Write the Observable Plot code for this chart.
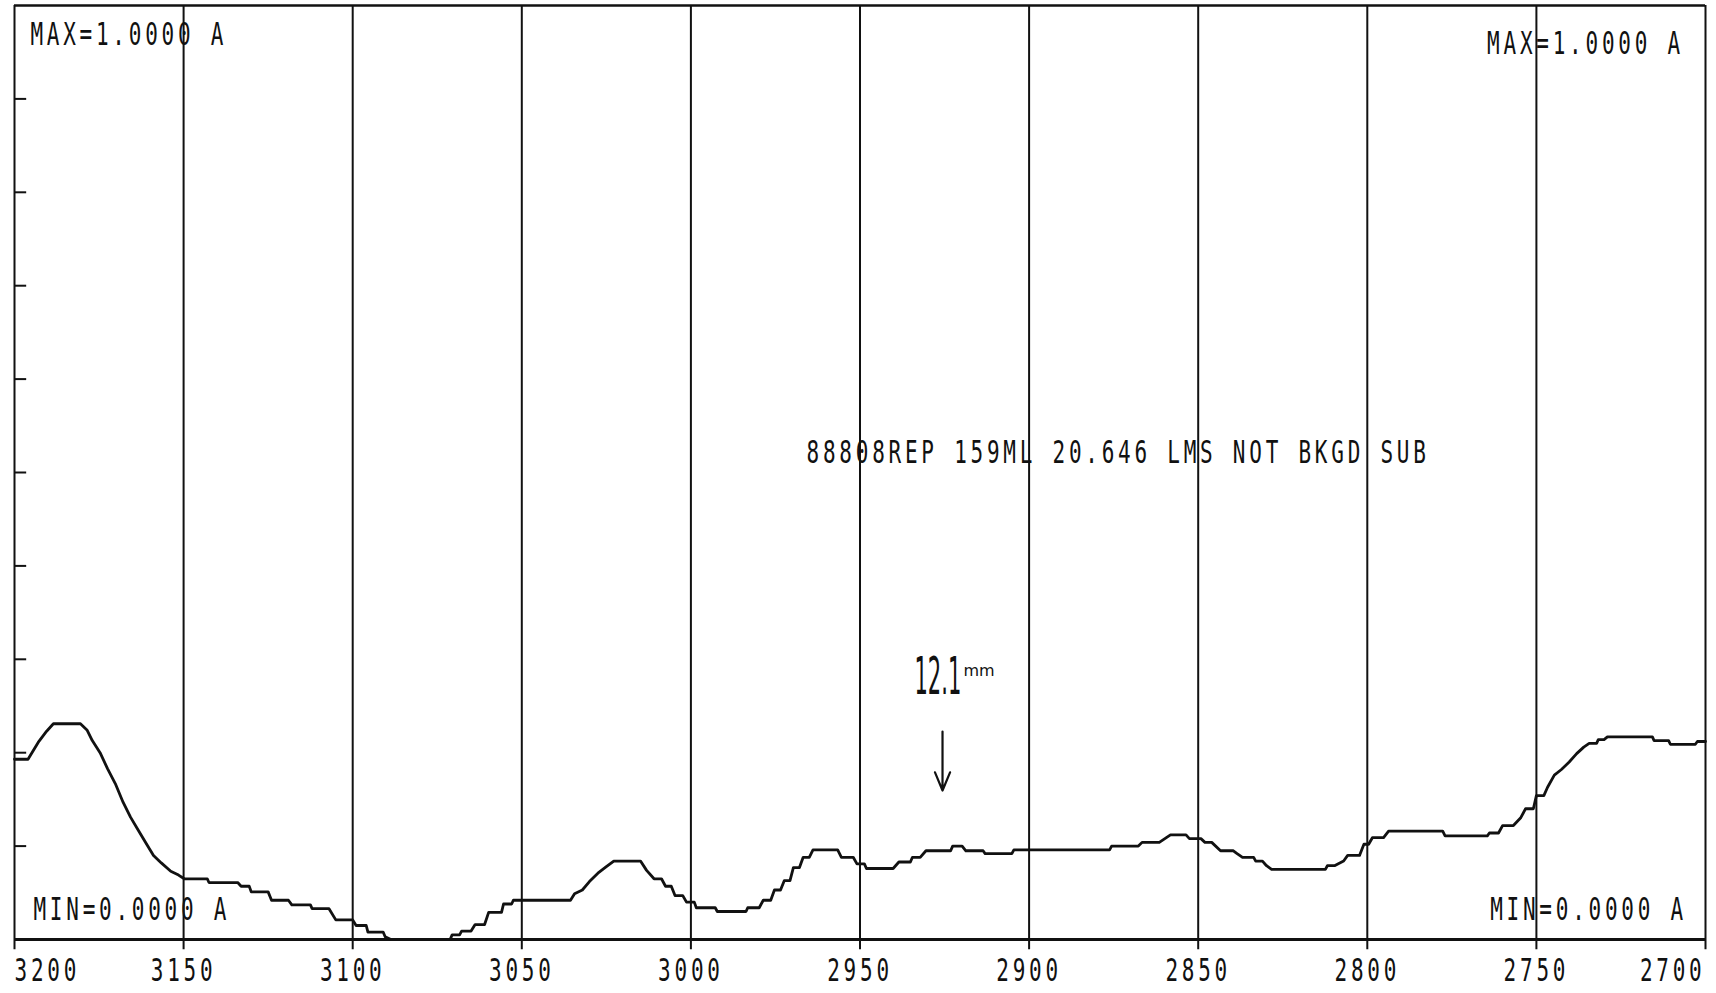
<!DOCTYPE html>
<html><head><meta charset="utf-8">
<script src="https://cdn.jsdelivr.net/npm/d3@7"></script>
<script src="https://cdn.jsdelivr.net/npm/@observablehq/plot@0.6"></script>
<style>body{margin:0;background:#fff;} svg{display:block}</style>
</head><body><div id="chart"></div>
<script>
// Spectrum trace (wavenumber, absorbance)
const wavenumber = [3200,3196,3193,3190.5,3188.5,3180.5,3178.5,3177,3174.7,3172.5,3170.2,3167.9,3165.7,3163.4,3161.1,3158.9,3156.6,3153.8,3151.5,3149.8,3143,3142.5,3134,3133,3130.6,3130,3125,3124,3119,3118,3112.5,3112,3107,3105,3100,3099,3096,3095.5,3091,3090.4,3088.7,3071.2,3070.6,3068.4,3067.8,3065,3063.8,3061,3059.8,3056,3055.4,3053,3052.5,3035.6,3034.4,3032.1,3030,3027.5,3025,3022.8,3014.9,3013.1,3010.9,3008.7,3007.5,3005.8,3004.7,3002.4,3001.3,2999,2998.4,2992.8,2992.2,2983.7,2983.2,2979.8,2978.6,2976.4,2975.3,2973.5,2972.4,2970.7,2969.7,2967.9,2966.8,2965,2963.9,2956.6,2955.5,2952,2950.9,2948.7,2948.1,2940.2,2938.5,2935.1,2934.5,2932.2,2930.5,2923.2,2922.6,2919.8,2918.7,2913.6,2913,2905.1,2904.5,2876.2,2875.6,2867.7,2866.6,2861.5,2858.2,2853.6,2852.6,2849.2,2848,2846,2843.4,2839.6,2838.5,2836.9,2833.6,2833,2831,2829.8,2828.3,2812.4,2811.8,2809.7,2807,2805.8,2802.3,2801,2799.6,2798.5,2795.2,2793.7,2777.7,2777,2764.5,2763.9,2761.2,2760,2756.8,2754.7,2753.2,2750.9,2750,2747.8,2746.7,2744.7,2742.6,2740.3,2738.1,2736,2734.4,2732.2,2731.7,2730,2729,2715.7,2715.2,2710.9,2710.4,2703,2702.4,2700];
const absorbance = [0.193,0.193,0.211,0.223,0.231,0.231,0.224,0.213,0.200,0.183,0.167,0.147,0.131,0.117,0.103,0.090,0.082,0.073,0.069,0.065,0.065,0.061,0.061,0.057,0.057,0.051,0.051,0.042,0.042,0.037,0.037,0.033,0.033,0.021,0.021,0.015,0.015,0.008,0.008,0.003,0,0,0.005,0.005,0.009,0.009,0.016,0.016,0.029,0.029,0.038,0.038,0.042,0.042,0.049,0.053,0.062,0.071,0.078,0.084,0.084,0.074,0.065,0.065,0.057,0.057,0.047,0.047,0.040,0.040,0.034,0.034,0.030,0.030,0.034,0.034,0.042,0.042,0.053,0.053,0.063,0.063,0.077,0.077,0.088,0.088,0.096,0.096,0.088,0.088,0.081,0.081,0.076,0.076,0.083,0.083,0.088,0.088,0.095,0.095,0.100,0.100,0.095,0.095,0.092,0.092,0.096,0.096,0.100,0.100,0.104,0.104,0.112,0.112,0.108,0.108,0.104,0.104,0.095,0.095,0.092,0.088,0.088,0.084,0.084,0.079,0.075,0.075,0.079,0.079,0.084,0.090,0.090,0.102,0.102,0.109,0.109,0.116,0.116,0.111,0.111,0.114,0.114,0.122,0.122,0.130,0.140,0.140,0.154,0.154,0.163,0.176,0.182,0.190,0.199,0.206,0.210,0.210,0.214,0.214,0.217,0.217,0.213,0.213,0.209,0.209,0.212,0.212];

// Axes
const xTicks = [3200,3150,3100,3050,3000,2950,2900,2850,2800,2750,2700];
const yTicks = [0.1,0.2,0.3,0.4,0.5,0.6,0.7,0.8,0.9];

// Corner texts
const leftLabels = ["MAX=1.0000 A","MIN=0.0000 A"];
const leftX = [3195.3, 3194.4];
const leftY = [0.969, 0.032];
const rightLabels = ["MAX=1.0000 A","MIN=0.0000 A"];
const rightX = [2706.4, 2705.5];
const rightY = [0.959, 0.032];

// Centre note
const noteText = ["88808REP 159ML 20.646 LMS NOT BKGD SUB"];
const noteX = [2965.8];
const noteY = [0.521];

// Handwritten annotation
const handText = ["12.1"];
const handX = [2933.9];
const handY = [0.2805];
const handUnit = ["mm"];
const handUnitX = [2919.4];
const handUnitY = [0.288];
const arrowX = [2925.6];
const arrowY1 = [0.2227];
const arrowY2 = [0.1595];

const spectrum = wavenumber.map((w, i) => ({w, a: absorbance[i]}));
const mono = "DejaVu Sans Mono";
const ink = "#111";
const tickLabelY = -0.0332;

const chart = Plot.plot({
  width: 1716, height: 993,
  marginTop: 5, marginBottom: 54, marginLeft: 14, marginRight: 11,
  x: {domain: [3200, 2700], axis: null},
  y: {domain: [0, 1], axis: null},
  marks: [
    Plot.ruleX(xTicks, {x: d => d, y1: -0.011, y2: 1, stroke: ink, strokeWidth: 2}),
    Plot.ruleY([1], {stroke: ink, strokeWidth: 2.5}),
    Plot.ruleY([0], {stroke: ink, strokeWidth: 3}),
    Plot.ruleY(yTicks, {y: d => d, x1: 3200, x2: 3196.4, stroke: ink, strokeWidth: 2}),
    Plot.line(spectrum, {x: "w", y: "a", stroke: ink, strokeWidth: 2.8}),
    Plot.text(leftLabels, {x: (d, i) => leftX[i], y: (d, i) => leftY[i], text: d => d, textAnchor: "start", fontFamily: mono, fontSize: 21, fill: ink}),
    Plot.text(rightLabels, {x: (d, i) => rightX[i], y: (d, i) => rightY[i], text: d => d, textAnchor: "end", fontFamily: mono, fontSize: 21, fill: ink}),
    Plot.text(noteText, {x: (d, i) => noteX[i], y: (d, i) => noteY[i], text: d => d, textAnchor: "start", fontFamily: mono, fontSize: 21, fill: ink}),
    Plot.text([xTicks[0]], {x: d => d, y: tickLabelY, text: d => String(d), textAnchor: "start", fontFamily: mono, fontSize: 21, fill: ink}),
    Plot.text(xTicks.slice(1, -1), {x: d => d, y: tickLabelY, text: d => String(d), textAnchor: "middle", fontFamily: mono, fontSize: 21, fill: ink}),
    Plot.text([xTicks[xTicks.length - 1]], {x: d => d, y: tickLabelY, text: d => String(d), textAnchor: "end", fontFamily: mono, fontSize: 21, fill: ink}),
    Plot.text(handText, {x: (d, i) => handX[i], y: (d, i) => handY[i], text: d => d, textAnchor: "start", fontFamily: "DejaVu Sans", fontWeight: 400, fontSize: 34, fill: ink}),
    Plot.text(handUnit, {x: (d, i) => handUnitX[i], y: (d, i) => handUnitY[i], text: d => d, textAnchor: "start", fontFamily: "DejaVu Sans", fontWeight: 400, fontSize: 16, fill: ink}),
    Plot.arrow(arrowX, {x1: d => d, x2: d => d, y1: (d, i) => arrowY1[i], y2: (d, i) => arrowY2[i], stroke: ink, strokeWidth: 2.2, headLength: 14, headAngle: 45})
  ]
});

// Printer-style lettering: tall, narrow, widely spaced characters
chart.querySelectorAll('text').forEach(t => {
  const s = t.textContent;
  if (!s || s === "mm") return;
  const tr = t.getAttribute('transform') || '';
  if (s === "12.1") {
    t.setAttribute('transform', tr + ' scale(0.62,1.5)');
    return;
  }
  t.setAttribute('transform', tr + ' scale(1,1.55)');
  t.style.letterSpacing = "3.76px";
});

document.getElementById("chart").appendChild(chart);
</script>
</body></html>
